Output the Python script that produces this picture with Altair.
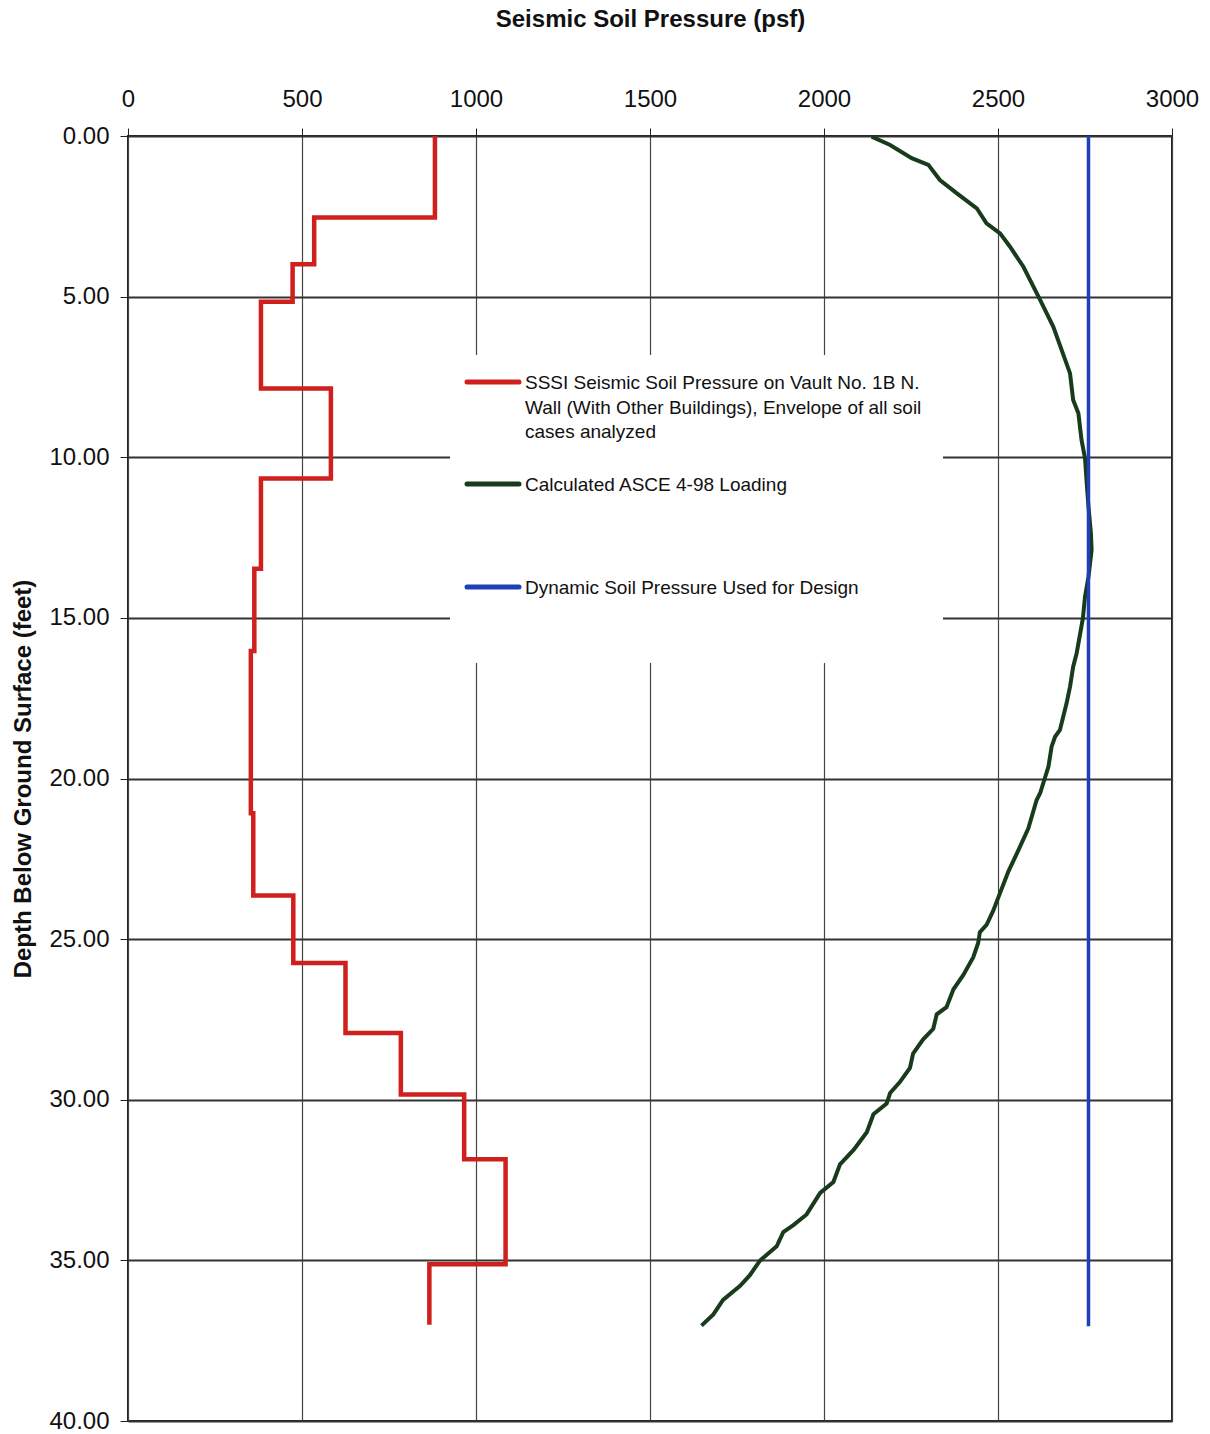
import altair as alt
import pandas as pd

# ---------------- data ----------------
# SSSI step profile: depth boundaries (ft) and pressure per segment (psf)
red_bounds = [0.0, 2.54, 3.99, 5.16, 7.86, 10.66, 13.47, 16.03, 21.08, 23.64,
              25.74, 27.92, 29.84, 31.85, 35.12, 37.0]
red_values = [882, 535, 473, 382, 583, 382, 363, 353, 360, 475, 625, 784, 966,
              1085, 866]

# Calculated ASCE 4-98 loading curve
green_depth = [0.02, 0.28, 0.69, 0.9, 1.37, 1.78, 2.25, 2.72, 3.03, 3.44, 4.07,
               5.1, 5.94, 7.39, 8.22, 8.63, 9.46, 10.03, 10.81, 11.54, 12.37,
               12.89, 13.72, 14.34, 15.01, 16.1, 16.52, 17.14, 17.66, 18.49,
               18.7, 19.01, 19.63, 20.46, 20.67, 21.56, 22.34, 22.89, 23.56,
               24.12, 24.56, 24.78, 25.12, 25.56, 26.12, 26.56, 27.12, 27.34,
               27.79, 28.12, 28.56, 29.01, 29.45, 29.79, 30.12, 30.45, 31.01,
               31.56, 32.01, 32.56, 32.9, 33.57, 33.9, 34.12, 34.56, 35.01,
               35.46, 35.79, 36.23, 36.68, 37.03]
green_values = [2137, 2190, 2252, 2300, 2333, 2381, 2439, 2467, 2506, 2534, 2573,
                2621, 2659, 2707, 2716, 2731, 2740, 2750, 2755, 2760, 2767,
                2769, 2760, 2750, 2744, 2726, 2716, 2707, 2697, 2678,
                2664, 2654, 2645, 2621, 2611, 2587, 2554, 2530, 2506,
                2486, 2467, 2448, 2443, 2429, 2400, 2372, 2352, 2324,
                2314, 2285, 2256, 2247, 2218, 2190, 2180, 2142, 2123,
                2085, 2046, 2027, 1989, 1950, 1912, 1883, 1864, 1816,
                1787, 1759, 1710, 1682, 1648]

# Design dynamic soil pressure (constant)
blue_depth = [0.0, 37.05]
blue_values = [2760, 2760]

x_ticks = [0, 500, 1000, 1500, 2000, 2500, 3000]
y_ticks = [0, 5, 10, 15, 20, 25, 30, 35, 40]

legend_labels = [
    ["SSSI Seismic Soil Pressure on Vault No. 1B N.",
     "Wall (With Other Buildings), Envelope of all soil",
     "cases analyzed"],
    ["Calculated ASCE 4-98 Loading"],
    ["Dynamic Soil Pressure Used for Design"],
]
series_colors = ["#d0201e", "#173b1c", "#1f3fb8"]

FONT = "Liberation Sans"

# ---------------- tables ----------------
red_rows = []
k = 0
for i, v in enumerate(red_values):
    red_rows.append({"p": v, "d": red_bounds[i], "o": k}); k += 1
    red_rows.append({"p": v, "d": red_bounds[i + 1], "o": k}); k += 1
red_df = pd.DataFrame(red_rows)
green_df = pd.DataFrame({"p": green_values, "d": green_depth,
                         "o": list(range(len(green_depth)))})
blue_df = pd.DataFrame({"p": blue_values, "d": blue_depth, "o": [0, 1]})

xs = alt.Scale(domain=[0, 3000], nice=False, zero=False)
ys = alt.Scale(domain=[0, 40], nice=False, zero=False, reverse=True)

x_axis = alt.Axis(orient="top", values=x_ticks, format="d",
                  title="Seismic Soil Pressure (psf)",
                  labelFontSize=24, labelFont=FONT, labelColor="#111",
                  labelFlush=False, labelOverlap=False, labelPadding=17,
                  tickSize=8, tickColor="#222", tickWidth=1,
                  grid=True, gridColor="#444", gridWidth=1.2, domain=False,
                  titleFont=FONT, titleFontSize=24, titleFontWeight="bold",
                  titleColor="#111", titleY=-110, titleBaseline="alphabetic")
y_axis = alt.Axis(values=y_ticks, format=".2f", title="Depth Below Ground Surface (feet)",
                  labelFontSize=24, labelFont=FONT, labelColor="#111",
                  labelFlush=False, labelOverlap=False, labelPadding=11,
                  tickSize=8, tickColor="#222", tickWidth=1,
                  grid=True, gridColor="#333", gridWidth=1.8, domain=False,
                  titleFont=FONT, titleFontSize=24, titleFontWeight="bold",
                  titleColor="#111", titleX=-98, titleBaseline="alphabetic")


def series(df, color, width):
    return alt.Chart(df).mark_line(color=color, strokeWidth=width,
                                   strokeJoin="miter", clip=True).encode(
        x=alt.X("p:Q", scale=xs, axis=x_axis),
        y=alt.Y("d:Q", scale=ys, axis=y_axis),
        order=alt.Order("o:Q"),
    )


red = series(red_df, series_colors[0], 4.5)
green = series(green_df, series_colors[1], 4)
blue = series(blue_df, series_colors[2], 3.5)

# ---------------- legend (manual, drawn in pixel space) ----------------
legend_box = alt.Chart(alt.Data(values=[{}])).mark_rect(fill="white").encode(
    x=alt.value(322), x2=alt.value(815), y=alt.value(219), y2=alt.value(527))

sym_y = [246, 348, 451]
sym_df = pd.DataFrame({"py": sym_y, "c": series_colors})
legend_syms = alt.Chart(sym_df).mark_rule(strokeWidth=5, strokeCap="round").encode(
    x=alt.value(339), x2=alt.value(391),
    y=alt.Y("py:Q", scale=None),
    color=alt.Color("c:N", scale=None),
)

text_rows = []
for j, lines in enumerate(legend_labels):
    for n, line in enumerate(lines):
        text_rows.append({"t": line, "py": sym_y[j] + 1 + n * 24.5})
text_df = pd.DataFrame(text_rows)
legend_text = alt.Chart(text_df).mark_text(
    align="left", baseline="middle", font=FONT, fontSize=19, color="#111").encode(
    x=alt.value(397), y=alt.Y("py:Q", scale=None), text="t:N")

chart = alt.layer(red, green, blue, legend_box, legend_syms, legend_text).properties(
    width=1044, height=1285,
    autosize=alt.AutoSizeParams(type="none"),
    padding={"left": 128, "top": 136, "right": 38, "bottom": 13},
    background="white",
).configure_view(stroke="#222", strokeWidth=2)

chart.save("out.html", embed_options={"renderer": "svg", "actions": False})
